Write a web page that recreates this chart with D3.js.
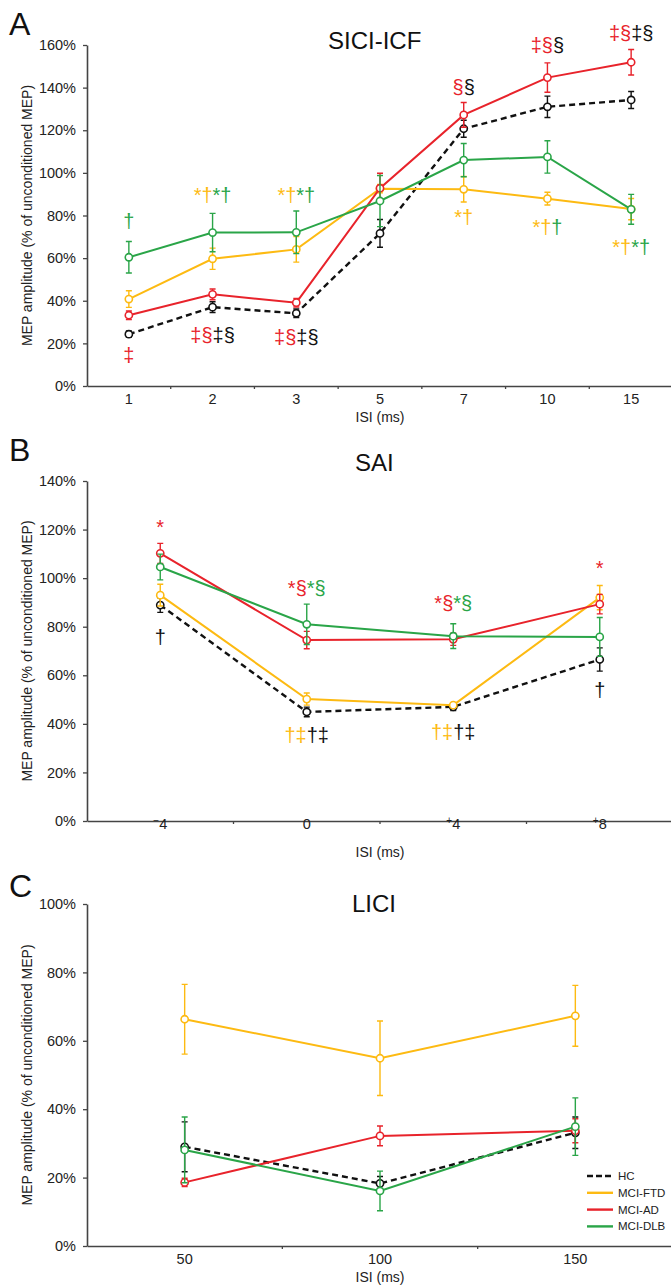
<!DOCTYPE html>
<html>
<head>
<meta charset="utf-8">
<script src="https://cdn.jsdelivr.net/npm/d3@7"></script>
<style>
  body { margin: 0; background: #fff; }
  svg { display: block; font-family: "Liberation Sans", Arial, sans-serif; }
</style>
</head>
<body>
<div id="chart"></div>
<script>
// groups and colours
const groups = ["HC", "MCI-FTD", "MCI-AD", "MCI-DLB"];
const colors = { "HC": "#111111", "MCI-FTD": "#FDBA12", "MCI-AD": "#E8232B", "MCI-DLB": "#2AA548" };

// A: SICI-ICF
const isiA = ["1", "2", "3", "5", "7", "10", "15"];
const sici = {
  "HC":      [24.3, 37.0, 34.1, 71.6, 120.7, 131.0, 134.2],
  "MCI-FTD": [40.8, 59.7, 64.1, 92.6, 92.3, 87.9, 83.0],
  "MCI-AD":  [33.2, 43.0, 39.1, 92.8, 127.2, 144.7, 151.9],
  "MCI-DLB": [60.4, 72.0, 72.1, 86.8, 106.0, 107.5, 82.9]
};
const siciErr = {
  "HC":      [1.5, 2.5, 2.0, 6.5, 4.0, 5.0, 4.0],
  "MCI-FTD": [3.9, 5.0, 6.0, 2.0, 6.0, 3.0, 5.0],
  "MCI-AD":  [2.0, 2.5, 2.0, 7.0, 5.8, 6.9, 6.0],
  "MCI-DLB": [7.4, 9.0, 10.0, 12.0, 7.8, 7.6, 7.0]
};

// B: SAI
const isiB = ["-4", "0", "+4", "+8"];
const sai = {
  "HC":      [88.9, 44.9, 47.0, 66.5],
  "MCI-FTD": [93.0, 50.2, 47.7, 92.0],
  "MCI-AD":  [110.2, 74.5, 74.8, 89.3],
  "MCI-DLB": [104.6, 81.0, 76.1, 75.8]
};
const saiErr = {
  "HC":      [3.0, 2.0, 1.5, 4.8],
  "MCI-FTD": [4.5, 2.5, 1.0, 5.0],
  "MCI-AD":  [4.1, 3.6, 2.5, 4.0],
  "MCI-DLB": [5.3, 8.3, 5.1, 8.0]
};

// C: LICI
const isiC = ["50", "100", "150"];
const lici = {
  "HC":      [29.0, 18.3, 33.1],
  "MCI-FTD": [66.3, 54.9, 67.3],
  "MCI-AD":  [18.6, 32.2, 33.7],
  "MCI-DLB": [28.1, 16.1, 34.9]
};
const liciErr = {
  "HC":      [7.3, 2.0, 4.6],
  "MCI-FTD": [10.2, 10.9, 8.9],
  "MCI-AD":  [1.2, 2.9, 3.5],
  "MCI-DLB": [9.6, 5.8, 8.4]
};

// significance marks: category, y value (%), pieces of [text, group]
const marksA = [
  ["1", 77.4, [["†", "MCI-DLB"]]],
  ["1", 14.5, [["‡", "MCI-AD"]]],
  ["2", 89.6, [["*†", "MCI-FTD"], ["*†", "MCI-DLB"]]],
  ["2", 23.9, [["‡§", "MCI-AD"], ["‡§", "HC"]]],
  ["3", 89.6, [["*†", "MCI-FTD"], ["*†", "MCI-DLB"]]],
  ["3", 23.0, [["‡§", "MCI-AD"], ["‡§", "HC"]]],
  ["7", 140.3, [["§", "MCI-AD"], ["§", "HC"]]],
  ["7", 79.3, [["*†", "MCI-FTD"]]],
  ["10", 160.0, [["‡§", "MCI-AD"], ["§", "HC"]]],
  ["10", 74.6, [["*†", "MCI-FTD"], ["†", "MCI-DLB"]]],
  ["15", 165.6, [["‡§", "MCI-AD"], ["‡§", "HC"]]],
  ["15", 65.2, [["*†", "MCI-FTD"], ["*†", "MCI-DLB"]]]
];
const marksB = [
  ["-4", 121.0, [["*", "MCI-AD"]]],
  ["-4", 75.7, [["†", "HC"]]],
  ["0", 95.9, [["*§", "MCI-AD"], ["*§", "MCI-DLB"]]],
  ["0", 35.4, [["†‡", "MCI-FTD"], ["†‡", "HC"]]],
  ["+4", 89.7, [["*§", "MCI-AD"], ["*§", "MCI-DLB"]]],
  ["+4", 36.6, [["†‡", "MCI-FTD"], ["†‡", "HC"]]],
  ["+8", 104.0, [["*", "MCI-AD"]]],
  ["+8", 53.9, [["†", "HC"]]]
];

const W = 671, H = 1285;
const svg = d3.select("#chart").append("svg").attr("width", W).attr("height", H);

const drawOrder = ["HC", "MCI-FTD", "MCI-AD", "MCI-DLB"];

function panel(opts) {
  const { letter, title, cats, vals, errs, yMax, top, bottom, titleX, titleY, letterY, marks, tickFmt } = opts;
  const left = 87, right = 673;
  const g = svg.append("g");

  const x = d3.scaleBand().domain(cats).range([left, right]);
  const y = d3.scaleLinear().domain([0, yMax]).range([bottom, top]);

  // y axis
  const yAxis = g.append("g")
    .attr("transform", `translate(${left},0)`)
    .call(d3.axisLeft(y).tickValues(d3.range(0, yMax + 1, 20)).tickFormat(d => d + "%").tickSize(4).tickSizeOuter(0));
  // x axis
  const xAxis = g.append("g")
    .attr("transform", `translate(0,${bottom})`)
    .call(d3.axisBottom(x).tickSize(0).tickSizeOuter(0).tickPadding(8));
  // boundary ticks between categories
  xAxis.selectAll(".bnd")
    .data(cats.slice(1))
    .join("line")
    .attr("class", "bnd")
    .attr("x1", d => x(d)).attr("x2", d => x(d))
    .attr("y1", 0).attr("y2", 3)
    .attr("stroke", "#444").attr("stroke-width", 1.3);

  [yAxis, xAxis].forEach(a => {
    a.select(".domain").attr("stroke", "#444").attr("stroke-width", 1.6);
    a.selectAll(".tick line").attr("stroke", "#444").attr("stroke-width", 1.3);
    a.selectAll(".tick text").attr("font-size", 14.5).attr("fill", "#222")
      .attr("font-family", "'Liberation Sans', Arial, sans-serif");
  });
  yAxis.selectAll(".tick text").attr("x", -11);

  if (tickFmt) {
    xAxis.selectAll(".tick text").each(function(d) {
      const t = d3.select(this).text("");
      const sign = d[0] === "-" || d[0] === "+" ? d[0] : "";
      const num = sign ? d.slice(1) : d;
      if (sign) t.append("tspan").attr("font-size", 10).attr("dy", -5).text(sign === "-" ? "\u2212" : "+");
      t.append("tspan").attr("dy", sign ? 5 : 0).text(num);
    });
  }

  g.append("text").attr("x", 380).attr("y", bottom + 36)
    .attr("text-anchor", "middle").attr("font-size", 14).attr("fill", "#222").text("ISI (ms)");

  g.append("text")
    .attr("transform", `translate(32,${(top + bottom) / 2}) rotate(-90)`)
    .attr("text-anchor", "middle").attr("font-size", 14).attr("fill", "#222")
    .text("MEP amplitude (% of unconditioned MEP)");

  g.append("text").attr("x", 9).attr("y", letterY)
    .attr("font-size", 32).attr("fill", "#111").text(letter);
  g.append("text").attr("x", titleX).attr("y", titleY)
    .attr("font-size", 24).attr("fill", "#111").text(title);

  const cx = d => x(d) + x.bandwidth() / 2;
  const line = d3.line().x(d => cx(d.c)).y(d => y(d.v));

  drawOrder.forEach(grp => {
    const pts = cats.map((c, i) => ({ c, v: vals[grp][i], e: errs[grp][i] }));
    const col = colors[grp];
    const sg = g.append("g");
    // error bars
    sg.selectAll(".eb").data(pts).join("path")
      .attr("d", d => {
        const X = cx(d.c), y1 = y(d.v + d.e), y2 = y(d.v - d.e);
        return `M${X - 3},${y1}H${X + 3}M${X},${y1}V${y2}M${X - 3},${y2}H${X + 3}`;
      })
      .attr("fill", "none").attr("stroke", col).attr("stroke-width", 1.4);
    sg.append("path").datum(pts).attr("d", line)
      .attr("fill", "none").attr("stroke", col)
      .attr("stroke-width", grp === "HC" ? 2.4 : 2)
      .attr("stroke-dasharray", grp === "HC" ? "6,4" : null);
    sg.selectAll("circle").data(pts).join("circle")
      .attr("cx", d => cx(d.c)).attr("cy", d => y(d.v)).attr("r", 3.6)
      .attr("fill", "#fff").attr("stroke", col).attr("stroke-width", 1.6);
  });

  if (marks) {
    marks.forEach(([c, v, parts]) => {
      const t = g.append("text").attr("x", cx(c)).attr("y", y(v) + 7)
        .attr("text-anchor", "middle").attr("font-size", 20);
      parts.forEach(([s, grp]) => {
        t.append("tspan").attr("fill", colors[grp]).text(s);
      });
    });
  }
  return { x, y, g };
}

panel({ letter: "A", title: "SICI-ICF", cats: isiA, vals: sici, errs: siciErr, yMax: 160,
  top: 45, bottom: 386, titleX: 328, titleY: 49, letterY: 35, marks: marksA });

panel({ letter: "B", title: "SAI", cats: isiB, vals: sai, errs: saiErr, yMax: 140,
  top: 481, bottom: 821, titleX: 355, titleY: 471, letterY: 461, marks: marksB, tickFmt: true });

const pc = panel({ letter: "C", title: "LICI", cats: isiC, vals: lici, errs: liciErr, yMax: 100,
  top: 904, bottom: 1246, titleX: 352, titleY: 912, letterY: 897 });

// legend
const leg = pc.g.append("g").attr("transform", "translate(587,1176)");
groups.forEach((grp, i) => {
  const row = leg.append("g").attr("transform", `translate(0,${i * 16.8})`);
  row.append("line").attr("x1", 0).attr("x2", 26).attr("y1", 0).attr("y2", 0)
    .attr("stroke", colors[grp]).attr("stroke-width", 2.4)
    .attr("stroke-dasharray", grp === "HC" ? "6,3" : null);
  row.append("text").attr("x", 31).attr("y", 4).attr("font-size", 11.5)
    .attr("fill", "#222").text(grp);
});
</script>
</body>
</html>
